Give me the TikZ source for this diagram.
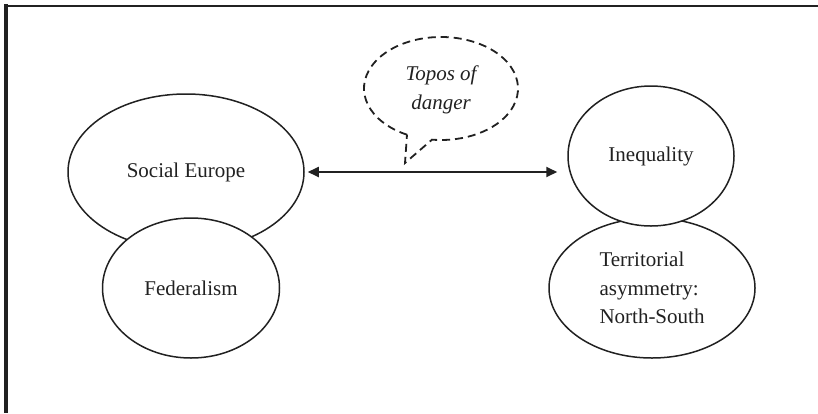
\documentclass[tikz,border=0pt]{standalone}
\usepackage{fontspec}
\setmainfont{Liberation Serif}
\usetikzlibrary{shapes.geometric,arrows.meta}
\definecolor{ink}{gray}{0.13}
\tikzset{
  oval/.style={draw=ink, line width=1.5pt, ellipse, inner sep=0pt, fill=white,
    text=ink, font=\fontsize{21}{28.5}\selectfont},
  frameline/.style={draw=ink},
  arr/.style={draw=ink, line width=1.8pt, {Triangle[length=11pt,width=10pt]}-{Triangle[length=11pt,width=10pt]}},
  bubble/.style={draw=ink, line width=1.8pt, dash pattern=on 8pt off 5pt}
}
\begin{document}
\begin{tikzpicture}[x=1pt,y=-1pt]
  \useasboundingbox (0,0) rectangle (818,413);
  % page frame: heavy left rule and thin top rule
  \draw[frameline, line width=4.5pt] (6,4) -- (6,413);
  \draw[frameline, line width=2pt] (4,6) -- (818,6);

  % left cluster
  \node[oval, minimum width=236pt, minimum height=156pt] (se) at (186,172) {Social Europe};
  \node[oval, minimum width=177pt, minimum height=140pt] (fed) at (191,288) {Federalism};

  % right cluster
  \node[oval, minimum width=206pt, minimum height=140pt, align=left] (terr) at (652,288)
    {Territorial\\asymmetry:\\North-South};
  \node[oval, minimum width=166pt, minimum height=140pt] (ineq) at (651,156) {Inequality};

  % two-way link between the clusters
  \draw[arr, shorten <=3pt, shorten >=10pt] (se.east) -- (se.east -| ineq.west);

  % dashed speech bubble
  \coordinate (bubA) at (407,134.7);
  \coordinate (bubTip) at (405,163);
  \draw[bubble] (bubA) arc[start angle=116.2, end angle=456.7, x radius=77, y radius=51.5]
    -- (bubTip) -- cycle;
  \node[align=center, text=ink, font=\fontsize{21}{29}\selectfont\itshape] (topos) at (441,90)
    {Topos of\\danger};
\end{tikzpicture}
\end{document}
